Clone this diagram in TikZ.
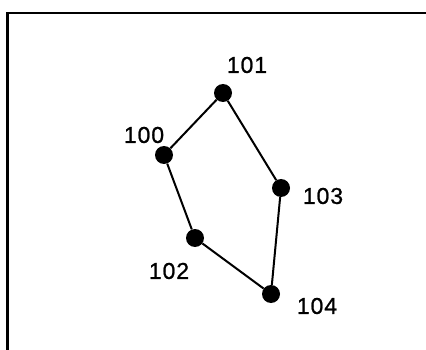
\documentclass[tikz,border=0pt]{standalone}
\usepackage{fontspec}
\setmainfont{Liberation Sans}[LetterSpace=4,FakeBold=0.9]
\begin{document}
\begin{tikzpicture}[x=1pt,y=-1pt,
  dot/.style={circle,fill=black,inner sep=0pt,minimum size=18pt},
  lbl/.style={inner sep=0pt,font=\fontsize{23}{25}\selectfont},
  edge/.style={line width=2pt},
  frame/.style={line width=2.4pt}]
\useasboundingbox (0,0) rectangle (426,350);
\coordinate (fl) at (7.5,350);
\coordinate (fc) at (7.5,13);
\coordinate (fr) at (426,13);
\draw[frame] (fl) -- (fc) -- (fr);
\node[dot] (n101) at (223,93) {};
\node[dot] (n100) at (164,155) {};
\node[dot] (n103) at (281,188) {};
\node[dot] (n102) at (195,238) {};
\node[dot] (n104) at (271,294) {};
\draw[edge] (n100) -- (n101) -- (n103) -- (n104) -- (n102) -- (n100);
\node[lbl] (t101) at (247,65) {101};
\node[lbl] (t100) at (144,135) {100};
\node[lbl] (t103) at (323,196) {103};
\node[lbl] (t102) at (169,271) {102};
\node[lbl] (t104) at (317,306) {104};
\end{tikzpicture}
\end{document}
